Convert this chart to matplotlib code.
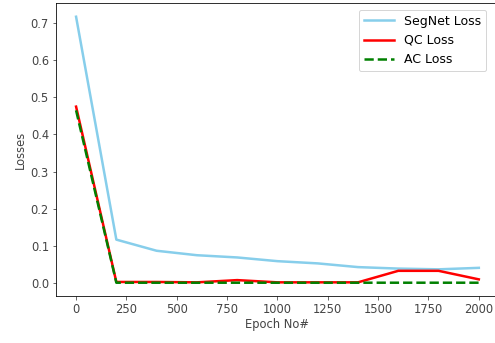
import matplotlib
matplotlib.use("Agg")
import matplotlib.pyplot as plt

epochs = [0, 200, 400, 600, 800, 1000, 1200, 1400, 1600, 1800, 2000]
segnet_loss = [0.717, 0.117, 0.087, 0.075, 0.069, 0.059, 0.053, 0.043, 0.039, 0.037, 0.041]
qc_loss = [0.475, 0.003, 0.003, 0.002, 0.008, 0.002, 0.002, 0.002, 0.033, 0.033, 0.010]
ac_loss = [0.465, 0.001, 0.001, 0.001, 0.001, 0.001, 0.001, 0.001, 0.001, 0.001, 0.001]

plt.rcParams["font.size"] = 11.5

fig, ax = plt.subplots(figsize=(495 / 72, 343 / 72), dpi=72)
# the reference is cropped just inside the right spine
fig.subplots_adjust(left=0.113, right=1.008, top=0.99, bottom=0.137)

ax.plot(epochs, segnet_loss, color="skyblue", lw=2.5, label="SegNet Loss")
ax.plot(epochs, qc_loss, color="red", lw=2.5, label="QC Loss")
ax.plot(epochs, ac_loss, color="green", lw=2.5, ls="--", label="AC Loss")

ax.set_xlabel("Epoch No#", color="#444444", labelpad=2)
ax.set_ylabel("Losses", color="#444444")
ax.tick_params(colors="#444444")
ax.legend(loc="upper right", fontsize=12.5, handlelength=2.4,
          bbox_to_anchor=(0.985, 1.0))

fig.savefig("out.png", dpi=72)
